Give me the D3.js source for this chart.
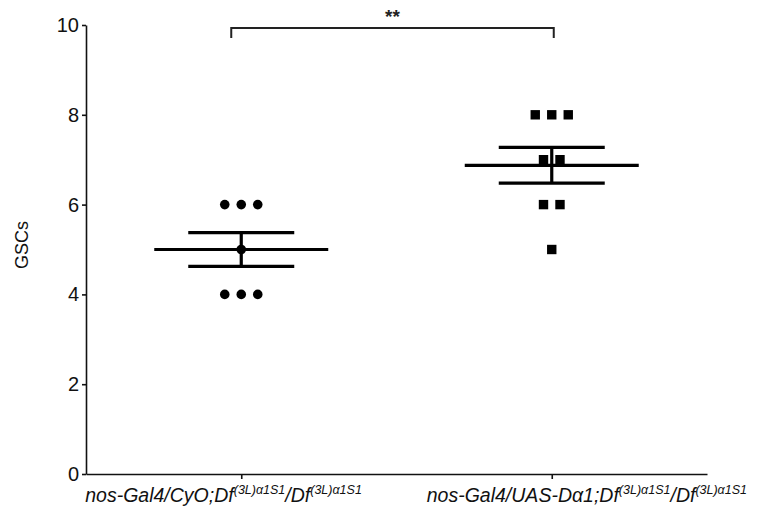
<!DOCTYPE html>
<html>
<head>
<meta charset="utf-8">
<script src="https://cdn.jsdelivr.net/npm/d3@7"></script>
<style>
	html, body { margin: 0; padding: 0; background: #fff; overflow: hidden; }
	svg { display: block; font-family: 'Liberation Sans', Arial, sans-serif; }
	.tick text { font-size: 20px; fill: #111; }
	.tick line, .domain { stroke: #111; stroke-width: 1.6px; }
</style>
</head>
<body>
<svg></svg>
<script>
const groups = ['g1', 'g2'];
const labelMain = [
	['nos-Gal4/CyO;Df', '/Df'],
	['nos-Gal4/UAS-D\u03b11;Df', '/Df']
];
const labelSup = '(3L)\u03b11S1';
const values1 = [6, 6, 6, 5, 4, 4, 4];
const values2 = [8, 8, 8, 7, 7, 6, 6, 5];
const yTicks = [0, 2, 4, 6, 8, 10];
const signif = '**';

const width = 760;
const height = 514;
const margin = { top: 25, right: 53, bottom: 40, left: 86 };
const innerWidth = width - margin.left - margin.right;
const innerHeight = height - margin.top - margin.bottom;

const svg = d3.select('svg')
	.attr('width', width)
	.attr('height', height);

const g = svg.append('g')
	.attr('transform', `translate(${margin.left},${margin.top})`);

const xScale = d3.scalePoint()
	.domain(groups)
	.range([0, innerWidth])
	.padding(0.5);

const yScale = d3.scaleLinear()
	.domain([0, 10])
	.range([innerHeight, 0]);

const yAxis = d3.axisLeft(yScale)
	.tickValues(yTicks)
	.tickSize(4)
	.tickPadding(3)
	.tickSizeOuter(0);

const xAxis = d3.axisBottom(xScale)
	.tickSize(5)
	.tickSizeOuter(0)
	.tickFormat('');

g.append('g').call(yAxis);
g.append('g')
	.attr('transform', `translate(0,${innerHeight})`)
	.call(xAxis);

g.append('text')
	.attr('transform', 'rotate(-90)')
	.attr('x', -yScale(5.1))
	.attr('y', -58)
	.attr('text-anchor', 'middle')
	.attr('font-size', 18)
	.attr('fill', '#111')
	.text('GSCs');

// points spread sideways when they share a value
function spread(values) {
	const counts = d3.rollup(values, v => v.length, d => d);
	const seen = new Map();
	return values.map(v => {
		const i = seen.get(v) || 0;
		seen.set(v, i + 1);
		return { v, off: (i - (counts.get(v) - 1) / 2) * 16.5 };
	});
}

const series = [
	{ key: 'g1', values: values1, shape: 'circle' },
	{ key: 'g2', values: values2, shape: 'square' }
];

series.forEach(s => {
	const cx = xScale(s.key);
	const mean = d3.mean(s.values);
	const sem = d3.deviation(s.values) / Math.sqrt(s.values.length);
	const pts = spread(s.values);

	if (s.shape === 'circle') {
		g.selectAll(null).data(pts).enter().append('circle')
			.attr('cx', d => cx + d.off)
			.attr('cy', d => yScale(d.v))
			.attr('r', 4.8)
			.attr('fill', '#000');
	} else {
		g.selectAll(null).data(pts).enter().append('rect')
			.attr('x', d => cx + d.off - 4.7)
			.attr('y', d => yScale(d.v) - 4.7)
			.attr('width', 9.4)
			.attr('height', 9.4)
			.attr('fill', '#000');
	}

	const stat = g.append('g').attr('stroke', '#000').attr('stroke-width', 3.2);
	stat.append('line')
		.attr('x1', cx - 87).attr('x2', cx + 87)
		.attr('y1', yScale(mean)).attr('y2', yScale(mean));
	stat.append('line')
		.attr('x1', cx).attr('x2', cx)
		.attr('y1', yScale(mean + sem)).attr('y2', yScale(mean - sem));
	[mean + sem, mean - sem].forEach(v => {
		stat.append('line')
			.attr('x1', cx - 53).attr('x2', cx + 53)
			.attr('y1', yScale(v)).attr('y2', yScale(v));
	});
});

// significance bracket
const bx1 = xScale('g1') - 10;
const bx2 = xScale('g2') + 2;
const by = yScale(10) + 3;
g.append('path')
	.attr('d', `M${bx1},${by + 10}V${by}H${bx2}V${by + 10}`)
	.attr('fill', 'none')
	.attr('stroke', '#222')
	.attr('stroke-width', 2);
g.append('text')
	.attr('x', (bx1 + bx2) / 2)
	.attr('y', by - 5)
	.attr('text-anchor', 'middle')
	.attr('font-size', 19)
	.attr('font-weight', 'bold')
	.attr('fill', '#222')
	.text(signif);

// category labels
const labelDx = [-156, -125];
groups.forEach((key, i) => {
	const t = g.append('text')
		.attr('x', xScale(key) + labelDx[i])
		.attr('y', innerHeight + 28)
		.attr('text-anchor', 'start')
		.attr('font-size', 19.5)
		.attr('font-style', 'italic')
		.attr('fill', '#111');
	t.append('tspan').text(labelMain[i][0]);
	t.append('tspan').attr('font-size', 12.5).attr('dy', -8).text(labelSup);
	t.append('tspan').attr('dy', 8).text(labelMain[i][1]);
	t.append('tspan').attr('font-size', 12.5).attr('dy', -8).text(labelSup);
});
</script>
</body>
</html>
